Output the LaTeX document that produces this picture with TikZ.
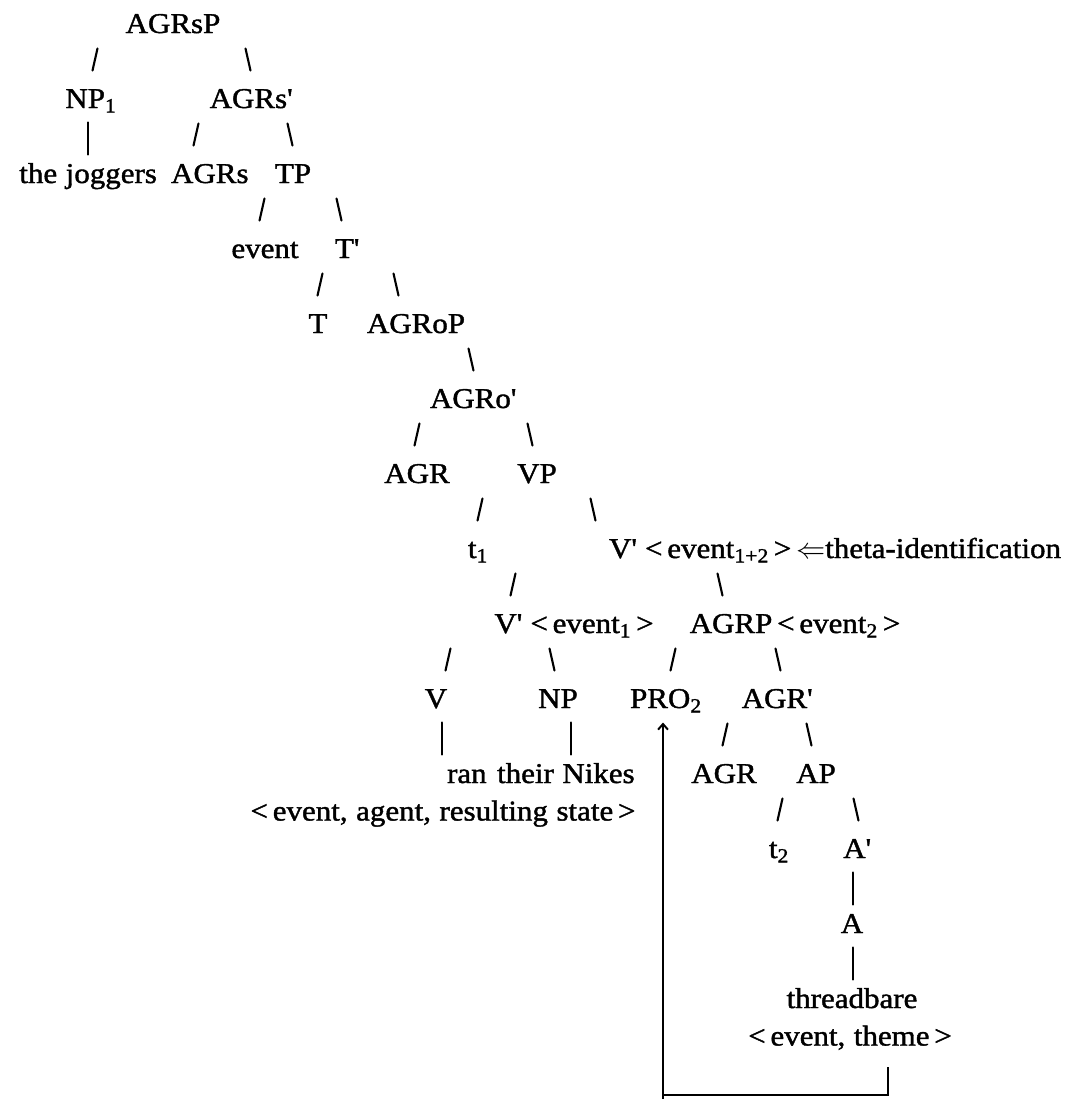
\documentclass[tikz,border=0pt]{standalone}
\usepackage{fontspec}
\setmainfont{Liberation Serif}[FakeStretch=1.08,FakeBold=1.4,WordSpace=1.1]
\usetikzlibrary{arrows.meta}
\newcommand{\primetick}{\textquotesingle}

\begin{document}
\begin{tikzpicture}[x=0.025cm, y=-0.025cm,
    lbl/.style={anchor=base, inner sep=2pt, font=\fontsize{20.4}{24}\selectfont},
    branch/.style={line width=1.5pt, line cap=round},
    link/.style={line width=1.4pt}]
    % Page frame
    \useasboundingbox (0,0) rectangle (1078,1099);

    % Typed lines: first baseline and line height
    \def\first{33}
    \def\lh{37.5}

    % Labels of the tree
    \node[lbl] (agrsp) at (173,33) {AGRsP};
    \node[lbl] (np1) at (91,108) {NP\textsubscript{1}};
    \node[lbl] (agrsbar) at (251,108) {AGRs\primetick};
    \node[lbl, anchor=base east] (joggers) at (160,183) {the joggers};
    \node[lbl, anchor=base west] (agrs) at (168,183) {AGRs};
    \node[lbl] (tp) at (293,183) {TP};
    \node[lbl] (event) at (265,258) {event};
    \node[lbl] (tbar) at (347,258) {T\primetick};
    \node[lbl] (t) at (318,333) {T};
    \node[lbl] (agrop) at (416,333) {AGRoP};
    \node[lbl] (agrobar) at (473,408) {AGRo\primetick};
    \node[lbl] (agro) at (417,483) {AGR};
    \node[lbl] (vp) at (537,483) {VP};
    \node[lbl] (t1) at (478,558) {t\textsubscript{1}};
    \node[lbl] (vbarsum) at (835,558) {V\primetick{} <\,event\textsubscript{1+2}\,>\,$\Leftarrow$theta-identification};
    \node[lbl] (vbarone) at (574,633) {V\primetick{} <\,event\textsubscript{1}\,>};
    \node[lbl] (agrp) at (795,633) {AGRP\,<\,event\textsubscript{2}\,>};
    \node[lbl] (v) at (436,708) {V};
    \node[lbl] (np) at (558,708) {NP};
    \node[lbl] (pro) at (666,708) {PRO\textsubscript{2}};
    \node[lbl] (agrbar) at (777,708) {AGR\primetick};
    \node[lbl, anchor=base west] (ran) at (444,783) {ran};
    \node[lbl, anchor=base west] (nikes) at (494,783) {their Nikes};
    \node[lbl] (agr) at (724,783) {AGR};
    \node[lbl] (ap) at (816,783) {AP};
    \node[lbl] (vgrid) at (443,820.5) {<\,event, agent, resulting state\,>};
    \node[lbl] (t2) at (779,858) {t\textsubscript{2}};
    \node[lbl] (abar) at (857,858) {A\primetick};
    \node[lbl] (a) at (852,933) {A};
    \node[lbl] (threadbare) at (852,1008) {threadbare};
    \node[lbl] (agrid) at (850,1045.5) {<\,event, theme\,>};

    % Left branches (x / line)
    \foreach \x/\k in {95/1, 196/3, 262/5, 320/7, 417/11, 480/13, 513/15,
                       448/17, 673/17, 725/19, 780/21} {
        \draw[branch] ({\x+2.5},{\first+\lh*\k-22}) -- ({\x-2.5},{\first+\lh*\k});
    }
    % Right branches
    \foreach \x/\k in {248/1, 290/3, 339/5, 396/7, 471/9, 530/11, 593/13,
                       720/15, 552/17, 778/17, 809/19, 856/21} {
        \draw[branch] ({\x-2.5},{\first+\lh*\k-22}) -- ({\x+2.5},{\first+\lh*\k});
    }
    % Unary branches
    \foreach \x/\k in {88/3, 442/19, 571/19, 853/23, 853/25} {
        \draw[branch] (\x,{\first+\lh*\k-23}) -- (\x,{\first+\lh*\k+9});
    }

    % Trace line back to PRO
    \coordinate (trace) at (663,1099);
    \coordinate (brk-l) at (663,1095);
    \coordinate (brk-r) at (888,1095);
    \coordinate (brk-top) at (888,1067);
    \draw[link, -{Straight Barb[length=4pt,width=7pt]}, shorten >=5pt]
        (trace) -- (trace |- pro.south);
    \draw[link] (brk-top) -- (brk-r) -- (brk-l);
\end{tikzpicture}
\end{document}
